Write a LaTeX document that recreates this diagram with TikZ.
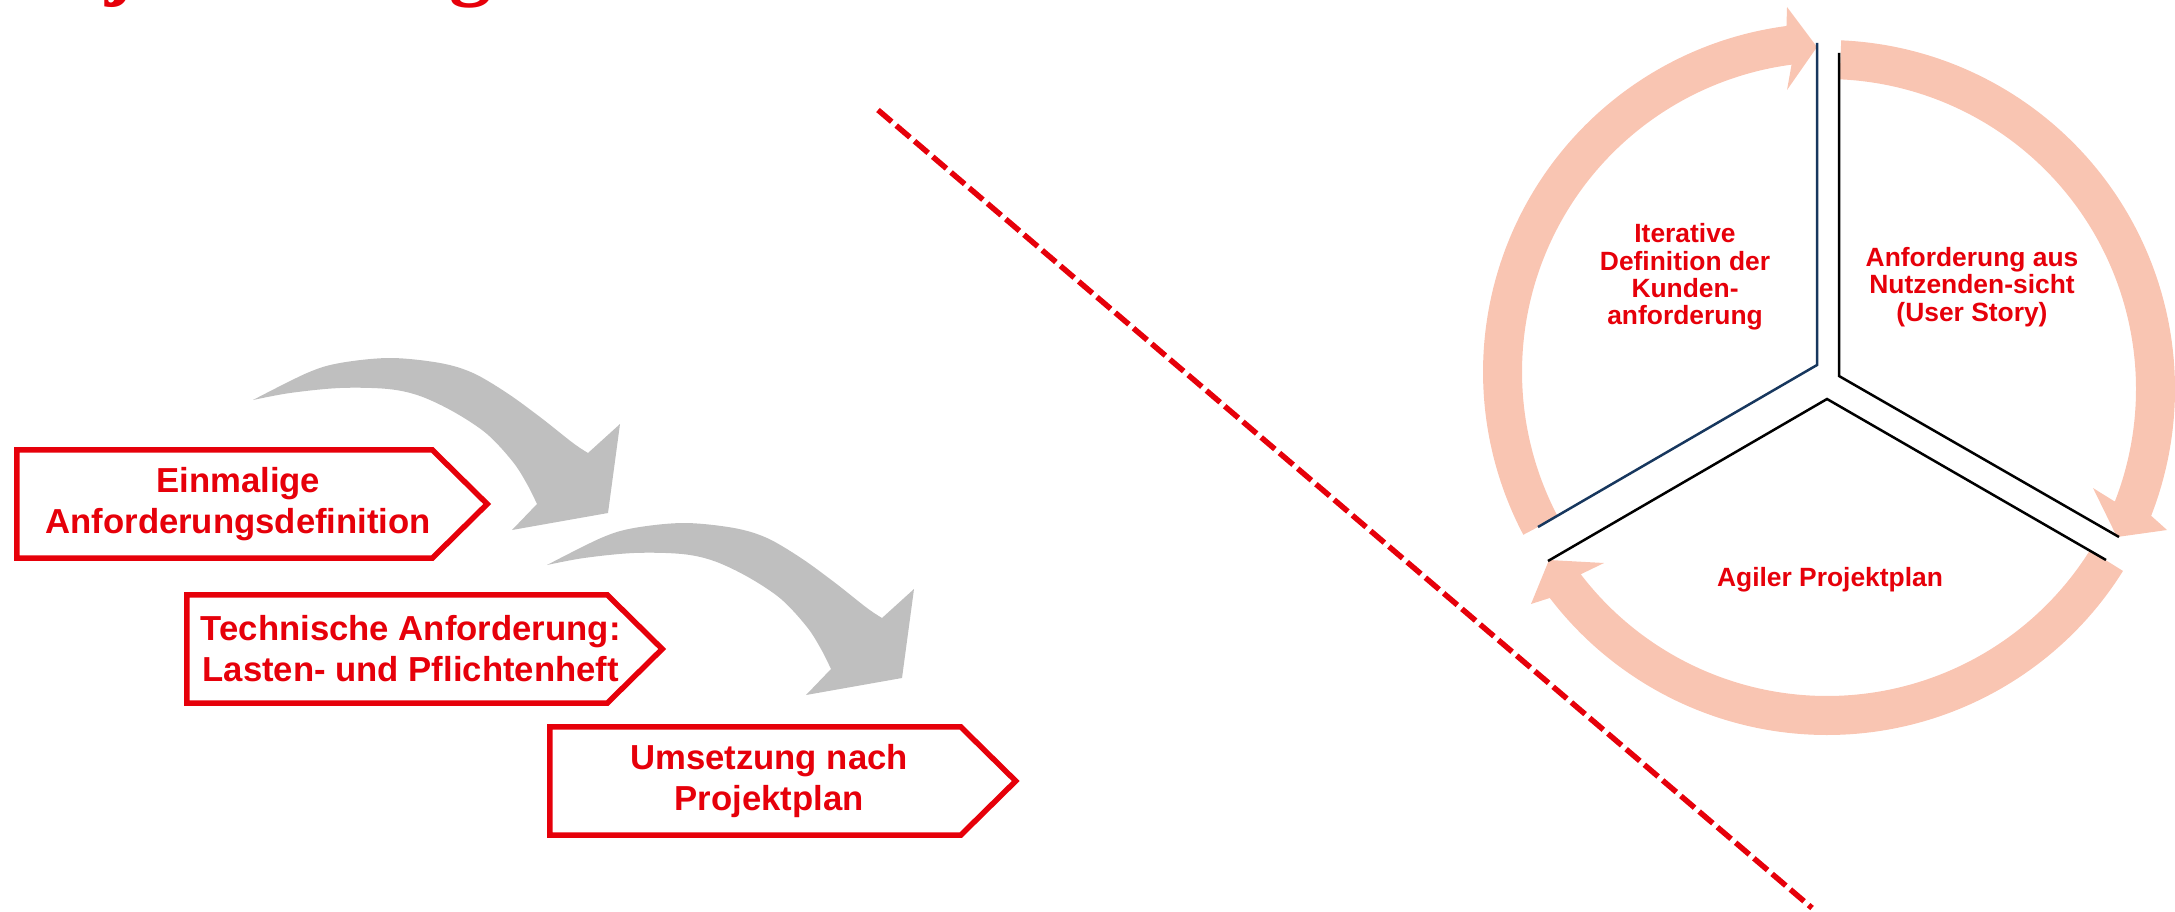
\documentclass[tikz,border=0pt]{standalone}
\usepackage{fontspec}
\setmainfont{Liberation Sans}
\newfontfamily\titlefont{Liberation Serif}
\usetikzlibrary{calc}

\definecolor{accentred}{RGB}{230,0,10}
\definecolor{peach}{RGB}{249,197,178}
\definecolor{arrowgray}{RGB}{191,191,191}
\definecolor{navyline}{RGB}{23,55,94}

\tikzset{
  chevbox/.style={draw=none, inner sep=0pt, align=center, text=accentred,
    font={\bfseries\fontsize{34.7}{41}\selectfont}},
  chevline/.style={draw=accentred, line width=5.5pt, line join=miter},
  cyclelabel/.style={inner sep=0pt, align=center, text=accentred,
    font={\bfseries\fontsize{26.4}{27.3}\selectfont}},
  band/.style={fill=peach},
  divider/.style={line width=2.5pt, line join=miter},
  cutline/.style={draw=accentred, line width=5.5pt, dash pattern=on 18pt off 6pt},
  bendarrow/.pic={
    \fill[arrowgray]
      plot[smooth, tension=0.55] coordinates {(253,400) (307,373) (340,363) (390,358)
        (440,363) (473,373) (507,393) (540,417) (573,443) (588,453)}
      -- (620,424) -- (608,513) -- (512,530) -- (537,504)
      -- plot[smooth, tension=0.55] coordinates {(537,504) (527,484) (513,462) (487,434)
        (454,412) (420,396) (388,389) (340,388) (290,393) (253,400)}
      -- cycle;
  }
}

\begin{document}
\begin{tikzpicture}[x=1pt, y=-1pt]
\useasboundingbox (0,0) rectangle (2175,912);

% heading, cut off at the top edge
\node[anchor=base west, inner sep=0pt, text=accentred,
  font={\titlefont\bfseries\fontsize{84.8}{90}\selectfont}] (title) at (-25,-10) {Projektmanagement};

% curved grey transition arrows
\pic (bendA) at (0,0) {bendarrow};
\pic (bendB) at (294,165) {bendarrow};

% classic sequence: three pointed boxes
\node[chevbox, minimum width=442.5pt, minimum height=108pt] (c1) at (238.25,504)
  {Einmalige\\Anforderungsdefinition};
\node[chevbox, minimum width=447.5pt, minimum height=108pt] (c2) at (410.75,649)
  {Technische Anforderung:\\Lasten- und Pflichtenheft};
\node[chevbox, minimum width=438pt, minimum height=108pt] (c3) at (769,781)
  {Umsetzung nach\\Projektplan};
\foreach \c in {c1,c2,c3}{
  \draw[chevline] (\c.north west) -- ([xshift=-27.5pt]\c.north east)
    -- ([xshift=27.5pt]\c.east) -- ([xshift=-27.5pt]\c.south east)
    -- (\c.south west) -- cycle;
}

% dashed separator
\coordinate (cutA) at (878,110);
\coordinate (cutB) at (1812,908);
\draw[cutline] (cutA) -- (cutB);

% agile cycle: three circular arrows
\fill[band] ([shift={(1832,372)}]152.2:349) arc[start angle=152.2, end angle=262.5, radius=349]
  -- (1787,7) -- (1817,47) -- (1787,90)
  -- ([shift={(1832,372)}]262.5:310) arc[start angle=262.5, end angle=152.2, radius=310] -- cycle;
\fill[band] ([shift={(1826,389)}]-87.5:349) arc[start angle=-87.5, end angle=21.3, radius=349]
  -- (2167,530) -- (2117,537) -- (2093,488)
  -- ([shift={(1826,389)}]21.3:310) arc[start angle=21.3, end angle=-87.5, radius=310] -- cycle;
\fill[band] ([shift={(1827,386)}]32:349) arc[start angle=32, end angle=142.6, radius=349]
  -- (1531,604) -- (1549,560) -- (1604,563)
  -- ([shift={(1827,386)}]142.6:310) arc[start angle=142.6, end angle=32, radius=310] -- cycle;

% Y-shaped dividers of the cycle
\draw[divider, draw=navyline] (1817,43) -- (1817,365) -- (1538,527);
\draw[divider, draw=black] (1839,53) -- (1839,376) -- (2119,537);
\draw[divider, draw=black] (1548,561) -- (1827,399) -- (2106,560);

% cycle labels
\node[cyclelabel] (iter) at (1685,277) {Iterative\\Definition der\\Kunden-\\anforderung};
\node[cyclelabel] (story) at (1972,287) {Anforderung aus\\Nutzenden-sicht\\(User Story)};
\node[cyclelabel] (plan) at (1830,580) {Agiler Projektplan};
\end{tikzpicture}
\end{document}
